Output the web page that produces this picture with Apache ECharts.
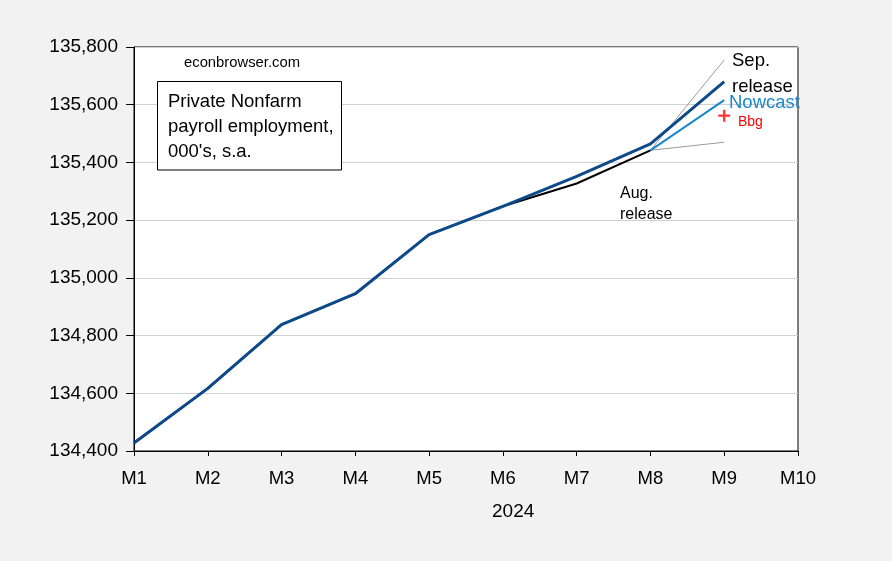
<!DOCTYPE html>
<html><head><meta charset="utf-8">
<script src="https://cdn.jsdelivr.net/npm/echarts@6/dist/echarts.min.js"></script>
<style>html,body{margin:0;padding:0;background:#f2f2f2}#c{width:892px;height:561px}</style>
</head><body><div id="c"></div>
<script>
const categories = ['M1','M2','M3','M4','M5','M6','M7','M8','M9','M10'];
const sepRelease = [134428, 134617, 134838, 134945, 135150, 135248, 135352, 135464, 135680, null];
const augRelease = [134428, 134617, 134838, 134945, 135150, 135248, 135327, 135442, null, null];
const nowcast = [null, null, null, null, null, null, null, 135442, 135616, null];
const bbg = [null, null, null, null, null, null, null, null, 135562, null];
const leaderSep = [null, null, null, null, null, null, null, 135442, 135755, null];
const leaderAug = [null, null, null, null, null, null, null, 135442, 135470, null];
const yTicks = {min: 134400, max: 135800, step: 200};
const xTitle = '2024';

const FONT = 'Arial, "Liberation Sans", sans-serif';
const chart = echarts.init(document.getElementById('c'), null, {renderer: 'canvas'});
chart.setOption({
  backgroundColor: '#f2f2f2',
  animation: false,
  grid: {left: 134, right: 94, top: 47, bottom: 110, show: true, backgroundColor: '#ffffff', borderColor: '#000', borderWidth: 1},
  xAxis: {
    type: 'category', data: categories, boundaryGap: false,
    axisLine: {lineStyle: {color: '#000', width: 1}},
    axisTick: {inside: false, length: 5, lineStyle: {color: '#000'}},
    axisLabel: {color: '#000', fontSize: 18.5, fontFamily: FONT, margin: 18},
    splitLine: {show: false}
  },
  yAxis: {
    type: 'value', min: yTicks.min, max: yTicks.max, interval: yTicks.step,
    axisLine: {show: true, lineStyle: {color: '#000', width: 1}},
    axisTick: {show: true, inside: false, length: 8, lineStyle: {color: '#000'}},
    axisLabel: {color: '#000', fontSize: 19, fontFamily: FONT, margin: 16,
      formatter: v => v.toLocaleString('en-US')},
    splitLine: {show: true, lineStyle: {color: '#d0d0d0', width: 1}}
  },
  series: [
    {type: 'line', data: leaderSep, symbol: 'none', lineStyle: {color: '#808080', width: 0.8}, z: 1},
    {type: 'line', data: leaderAug, symbol: 'none', lineStyle: {color: '#808080', width: 0.8}, z: 1},
    {type: 'line', data: augRelease, symbol: 'none', lineStyle: {color: '#000000', width: 2}, z: 2},
    {type: 'line', data: nowcast, symbol: 'none', lineStyle: {color: '#1a87c9', width: 2}, z: 3},
    {type: 'line', data: sepRelease, symbol: 'none', lineStyle: {color: '#0d4a8a', width: 3}, z: 4},
    {type: 'scatter', data: bbg, symbol: 'path://M5,0h2.4v5h5v2.4h-5v5h-2.4v-5h-5v-2.4h5z', symbolSize: 12,
      itemStyle: {color: '#ff0000'}, z: 5}
  ],
  graphic: [
    {type: 'text', z: 100, left: 184, top: 55.5, style: {text: 'econbrowser.com', fill: '#000', font: '14.8px ' + FONT}},
    {type: 'rect', z: 100, shape: {x: 157.5, y: 81.5, width: 184, height: 88.5}, style: {fill: '#fff', stroke: '#000', lineWidth: 1}},
    {type: 'text', z: 101, left: 168, top: 89, style: {text: 'Private Nonfarm\npayroll employment,\n000\'s, s.a.', fill: '#000', font: '18.5px ' + FONT, lineHeight: 25}},
    {type: 'text', z: 100, left: 732, top: 48.5, style: {text: 'Sep.\nrelease', fill: '#000', font: '18.5px ' + FONT, lineHeight: 25.5}},
    {type: 'text', z: 100, left: 729, top: 93.5, style: {text: 'Nowcast', fill: '#1a87c9', font: '18.5px ' + FONT}},
    {type: 'text', z: 100, left: 738, top: 115, style: {text: 'Bbg', fill: '#ff0000', font: '14px ' + FONT}},
    {type: 'text', z: 100, left: 620, top: 183, style: {text: 'Aug.\nrelease', fill: '#000', font: '16px ' + FONT, lineHeight: 21}},
    {type: 'text', z: 100, left: 492, top: 502, style: {text: xTitle, fill: '#000', font: '19px ' + FONT}}
  ]
});
</script>
</body></html>
